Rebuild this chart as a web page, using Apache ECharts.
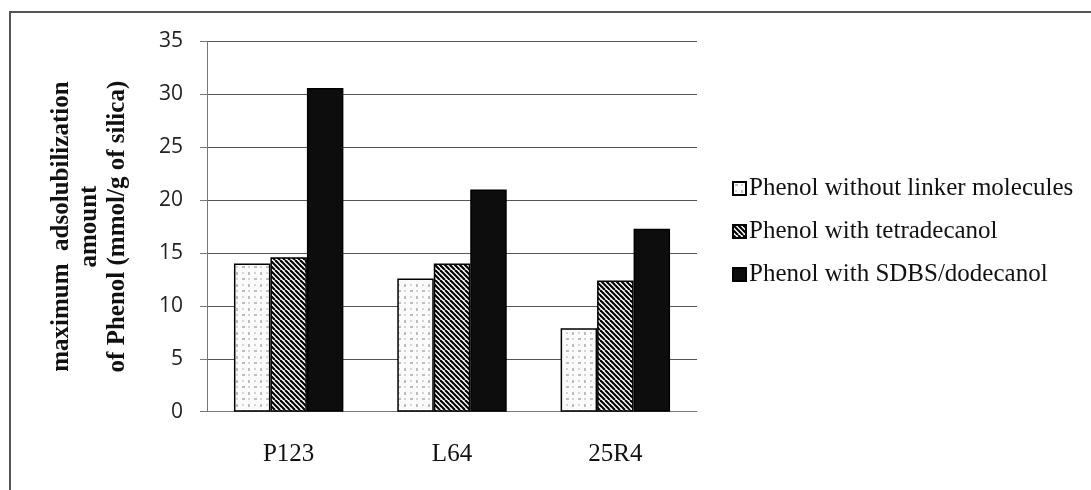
<!DOCTYPE html>
<html><head><meta charset="utf-8">
<script src="https://cdn.jsdelivr.net/npm/echarts@6/dist/echarts.min.js"></script>
<style>html,body{margin:0;padding:0;background:#fff}#c{width:1091px;height:490px}</style>
</head><body><div id="c"></div>
<script>
const categories = ['P123', 'L64', '25R4'];
const seriesNames = ['Phenol without linker molecules', 'Phenol with tetradecanol', 'Phenol with SDBS/dodecanol'];
const withoutLinker = [14.0, 12.6, 7.9];
const withTetradecanol = [14.6, 14.0, 12.4];
const withSDBS = [30.6, 21.0, 17.3];
const yTicks = [0, 5, 10, 15, 20, 25, 30, 35];

function dotPattern() {
  const c = document.createElement('canvas'); c.width = 12; c.height = 12;
  const g = c.getContext('2d');
  g.fillStyle = '#fbfbfb'; g.fillRect(0, 0, 12, 12);
  g.fillStyle = '#bdbdbd';
  g.fillRect(2, 2, 3, 2); g.fillRect(8, 8, 2, 3);
  g.fillStyle = '#d6d6d6';
  g.fillRect(8, 2, 2, 2); g.fillRect(2, 8, 2, 2);
  return c;
}
function hatchPattern() {
  const s = 10;
  const c = document.createElement('canvas'); c.width = s; c.height = s;
  const g = c.getContext('2d');
  g.fillStyle = '#fff'; g.fillRect(0, 0, s, s);
  g.strokeStyle = '#000'; g.lineWidth = 2.2;
  for (let k = -2 * s; k <= 2 * s; k += 5) {
    g.beginPath(); g.moveTo(k, 0); g.lineTo(k + s, s); g.stroke();
  }
  return c;
}

const chart = echarts.init(document.getElementById('c'), null, { renderer: 'canvas' });
const serif = 'Liberation Serif';
chart.setOption({
  backgroundColor: '#fff',
  animation: false,
  graphic: [{
    type: 'rect', shape: { x: 10, y: 12, width: 1200, height: 600 },
    style: { fill: 'none', stroke: '#555', lineWidth: 2 }, z: -1
  }],
  grid: { left: 207, right: 394, top: 41.5, bottom: 78.3 },
  legend: {
    orient: 'vertical', left: 727, top: 171,
    itemWidth: 13, itemHeight: 13, itemGap: 18,
    icon: 'rect',
    textStyle: { fontFamily: serif, fontSize: 25, color: '#111', padding: [0, 0, 0, -2] },
    data: seriesNames
  },
  xAxis: {
    type: 'category', data: categories,
    axisLine: { lineStyle: { color: '#777', width: 1 } },
    axisTick: { show: false },
    axisLabel: { fontFamily: serif, fontSize: 25, color: '#111', margin: 30 }
  },
  yAxis: {
    type: 'value', min: 0, max: 35, interval: 5,
    name: 'maximum  adsolubilization\namount\nof Phenol (mmol/g of silica)',
    nameLocation: 'middle', nameRotate: 90, nameGap: 75,
    nameTextStyle: { fontFamily: serif, fontSize: 25, fontWeight: 'bold', color: '#111', lineHeight: 28 },
    axisLine: { show: true, lineStyle: { color: '#777', width: 1 } },
    axisTick: { show: true, length: 7, lineStyle: { color: '#777' } },
    axisLabel: {
      fontFamily: 'Open Sans', fontSize: 21, color: '#222', margin: 24,
      formatter: v => (yTicks.indexOf(v) >= 0 ? String(v) : '')
    },
    splitLine: { lineStyle: { color: '#555', width: 1 } }
  },
  series: [
    { name: seriesNames[0], type: 'bar', data: withoutLinker, barGap: '0%', barCategoryGap: '33%',
      itemStyle: { color: { image: dotPattern(), repeat: 'repeat' }, borderColor: '#000', borderWidth: 1.5 } },
    { name: seriesNames[1], type: 'bar', data: withTetradecanol, barGap: '0%', barCategoryGap: '33%',
      itemStyle: { color: { image: hatchPattern(), repeat: 'repeat' }, borderColor: '#000', borderWidth: 1.5 } },
    { name: seriesNames[2], type: 'bar', data: withSDBS, barGap: '0%', barCategoryGap: '33%',
      itemStyle: { color: '#0d0d0d', borderColor: '#000', borderWidth: 1.5 } }
  ]
});
</script></body></html>
